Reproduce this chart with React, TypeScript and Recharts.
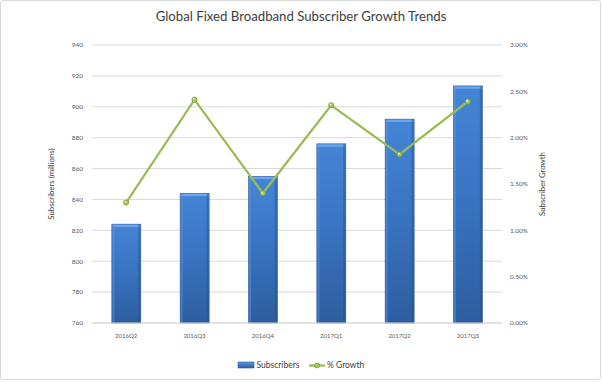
import React from "react";
import {
  ComposedChart,
  Bar,
  Line,
  XAxis,
  YAxis,
  CartesianGrid,
} from "recharts";

const quarters = ["2016Q2", "2016Q3", "2016Q4", "2017Q1", "2017Q2", "2017Q3"];
const subscribers = [824, 844, 855, 876, 892, 913.5];
const growth = [1.3, 2.41, 1.4, 2.35, 1.82, 2.39];
const leftTicks = [760, 780, 800, 820, 840, 860, 880, 900, 920, 940];
const rightTicks = [0, 0.5, 1, 1.5, 2, 2.5, 3];

const data = quarters.map((q, i) => ({
  quarter: q,
  subscribers: subscribers[i],
  growth: growth[i],
}));

const FONT = "Lato, 'Open Sans', sans-serif";

const BarShape = (props: any) => {
  const { x, y, width, height } = props;
  if (!height || height <= 0) return null;
  return (
    <g>
      <rect x={x} y={y} width={width} height={height} fill="url(#barGrad)" stroke="#2f5c96" strokeWidth={0.6} />
      <rect x={x + 0.6} y={y + 0.6} width={width - 1.2} height={2.2} fill="#6fa6ea" />
      <rect x={x + 0.6} y={y} width={2} height={height} fill="#5a93dc" opacity={0.5} />
      <rect x={x + width - 2.6} y={y} width={2} height={height} fill="#24508a" opacity={0.45} />
    </g>
  );
};

const GrowthDot = (props: any) => {
  const { cx, cy } = props;
  if (cx == null || cy == null) return null;
  return (
    <g>
      <circle cx={cx} cy={cy} r={2.6} fill="#a9c95f" stroke="#71902f" strokeWidth={0.7} />
      <circle cx={cx - 0.7} cy={cy - 0.8} r={0.9} fill="#e4f2bf" />
    </g>
  );
};

export default function App() {
  return (
    <div
      style={{
        position: "fixed",
        left: 0,
        top: 0,
        width: 602,
        height: 382,
        background: "#fff",
        fontFamily: FONT,
      }}
    >
      <div
        style={{
          position: "absolute",
          left: 0,
          top: 0,
          width: 601,
          height: 380,
          border: "1px solid #d9d9d9",
          borderRadius: 3,
          boxSizing: "border-box",
          pointerEvents: "none",
        }}
      />
      <div
        style={{
          position: "absolute",
          left: 0,
          top: 8,
          width: 602,
          textAlign: "center",
          fontSize: 13.2,
          color: "#404040",
          fontFamily: FONT,
        }}
      >
        Global Fixed Broadband Subscriber Growth Trends
      </div>
      <ComposedChart
        width={602}
        height={382}
        data={data}
        margin={{ top: 45, right: 0, bottom: 34, left: 0 }}
        barCategoryGap="29%"
      >
        <defs>
          <linearGradient id="barGrad" x1="0" y1="0" x2="0" y2="1">
            <stop offset="0%" stopColor="#4585d6" />
            <stop offset="45%" stopColor="#3a74c2" />
            <stop offset="100%" stopColor="#2d5d9f" />
          </linearGradient>
        </defs>
        <CartesianGrid yAxisId="left" vertical={false} stroke="#d9d9d9" strokeWidth={1} />
        <XAxis
          dataKey="quarter"
          height={25}
          tickLine={false}
          axisLine={{ stroke: "#d9d9d9", strokeWidth: 1 }}
          tick={{ fontSize: 6, fill: "#595959", fontFamily: FONT }}
          tickMargin={5}
          interval={0}
        />
        <YAxis
          yAxisId="left"
          orientation="left"
          width={92}
          domain={[760, 940]}
          ticks={leftTicks}
          interval={0}
          tickLine={false}
          axisLine={false}
          tickSize={0}
          tickMargin={9}
          tick={{ fontSize: 6.5, fill: "#595959", fontFamily: FONT }}
          label={{
            value: "Subscribers (millions)",
            angle: -90,
            position: "insideLeft",
            offset: 51,
            style: { fontSize: 7.8, fill: "#404040", fontFamily: FONT, textAnchor: "middle" },
          }}
        />
        <YAxis
          yAxisId="right"
          orientation="right"
          width={100}
          domain={[0, 3]}
          ticks={rightTicks}
          interval={0}
          tickLine={false}
          axisLine={false}
          tickSize={0}
          tickMargin={8}
          tickFormatter={(v: number) => v.toFixed(2) + "%"}
          tick={{ fontSize: 6.5, fill: "#595959", fontFamily: FONT }}
          label={{
            value: "Subscriber Growth",
            angle: -90,
            position: "insideRight",
            offset: 60,
            style: { fontSize: 7.8, fill: "#404040", fontFamily: FONT, textAnchor: "middle" },
          }}
        />
        <Bar
          yAxisId="left"
          dataKey="subscribers"
          shape={<BarShape />}
          isAnimationActive={false}
        />
        <Line
          yAxisId="right"
          dataKey="growth"
          type="linear"
          stroke="#9bbb59"
          strokeWidth={2.3}
          dot={<GrowthDot />}
          activeDot={false}
          isAnimationActive={false}
        />
      </ComposedChart>
      <svg
        style={{ position: "absolute", left: 0, top: 355 }}
        width={602}
        height={20}
      >
        <defs>
          <linearGradient id="legGrad" x1="0" y1="0" x2="0" y2="1">
            <stop offset="0%" stopColor="#5c98e2" />
            <stop offset="100%" stopColor="#2d5d9f" />
          </linearGradient>
        </defs>
        <rect x={238} y={7} width={16} height={6} fill="url(#legGrad)" stroke="#2f5c96" strokeWidth={0.6} />
        <text x={256.5} y={13} fontSize={8.5} fill="#404040" fontFamily={FONT}>
          Subscribers
        </text>
        <line x1={309} y1={10.5} x2={325} y2={10.5} stroke="#9bbb59" strokeWidth={2.3} />
        <circle cx={317} cy={10.5} r={2.5} fill="#a9c95f" stroke="#71902f" strokeWidth={0.7} />
        <text x={327} y={13} fontSize={8.5} fill="#404040" fontFamily={FONT}>
          % Growth
        </text>
      </svg>
    </div>
  );
}
